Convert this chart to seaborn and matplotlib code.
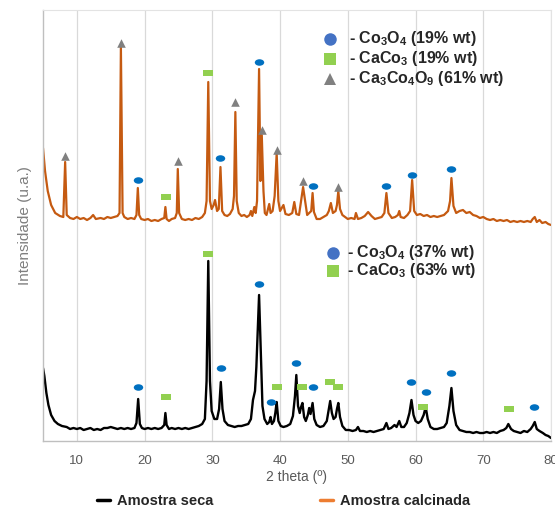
import numpy as np
import pandas as pd
import matplotlib
matplotlib.use("Agg")
import matplotlib.pyplot as plt
from matplotlib.markers import MarkerStyle
from matplotlib.transforms import Affine2D
from matplotlib.lines import Line2D
import seaborn as sns

# --- traced diffractograms (2 theta, intensity in arbitrary units) ---
calc_x = [5.0, 5.3, 5.7, 6.2, 6.8, 7.5, 8.0, 8.27, 8.5, 9.0, 9.5, 10.0, 10.5, 11.0, 11.5, 12.0, 12.4, 12.8,
          13.5, 14.0, 14.5, 15.0, 15.5, 16.0, 16.3, 16.5, 16.75, 17.0, 17.5, 18.0, 18.5, 18.8, 19.0, 19.2,
          19.5, 20.0, 20.5, 21.0, 21.5, 22.0, 22.5, 22.9, 23.07, 23.25, 23.6, 24.0, 24.5, 24.75, 24.9, 25.1,
          25.5, 26.0, 26.5, 27.0, 27.5, 28.0, 28.5, 28.9, 29.15, 29.4, 29.65, 29.9, 30.2, 30.4, 30.7, 30.95,
          31.2, 31.45, 31.8, 32.2, 32.6, 33.0, 33.2, 33.4, 33.6, 33.9, 34.3, 34.7, 35.1, 35.5, 35.7, 35.9,
          36.2, 36.4, 36.6, 36.9, 37.1, 37.3, 37.55, 37.75, 38.0, 38.4, 38.6, 38.9, 39.2, 39.5, 39.75, 40.0,
          40.5, 40.8, 41.3, 41.8, 42.1, 42.4, 42.8, 43.1, 43.4, 43.7, 44.0, 44.3, 44.6, 44.8, 45.0, 45.4,
          45.9, 46.4, 46.9, 47.2, 47.5, 47.8, 48.2, 48.4, 48.6, 48.85, 49.2, 49.6, 50.0, 50.5, 51.0, 51.2,
          51.5, 52.0, 52.5, 53.0, 53.5, 54.0, 54.5, 55.0, 55.4, 55.7, 56.0, 56.5, 57.0, 57.4, 57.6, 57.8,
          58.3, 58.8, 59.2, 59.5, 59.8, 60.2, 60.7, 61.2, 61.7, 62.2, 62.7, 63.2, 63.7, 64.2, 64.8, 65.1,
          65.3, 65.6, 66.0, 66.5, 67.0, 67.5, 68.0, 68.5, 69.0, 69.5, 70.0, 70.5, 71.0, 71.5, 72.0, 72.5,
          73.0, 73.5, 74.0, 74.5, 75.0, 75.5, 76.0, 76.5, 77.0, 77.3, 77.6, 77.9, 78.3, 78.7, 79.2, 79.6, 80.0]
calc_y = [293, 270, 250, 236, 228, 225, 224, 279, 226, 223, 222, 224, 222, 223, 221, 223, 226, 222,
          223, 222, 224, 223, 224, 225, 228, 394, 228, 224, 222, 223, 222, 226, 253, 226,
          222, 221, 222, 220, 221, 220, 222, 223, 234, 222, 220, 222, 223, 228, 272, 228,
          222, 221, 222, 221, 223, 222, 224, 228, 240, 359, 240, 232, 236, 241, 230, 232,
          274, 230, 226, 225, 227, 232, 245, 329, 240, 228, 225, 226, 224, 226, 230, 225,
          234, 228, 240, 372, 260, 306, 250, 228, 226, 237, 228, 230, 245, 288, 240, 230,
          236, 227, 226, 228, 239, 227, 226, 240, 254, 240, 226, 228, 230, 248, 229, 222,
          222, 224, 226, 230, 238, 228, 230, 236, 250, 232, 226, 224, 222, 223, 222, 228,
          222, 223, 225, 229, 225, 222, 223, 224, 228, 248, 228, 223, 224, 226, 230, 224,
          223, 226, 230, 261, 230, 226, 227, 225, 226, 224, 225, 224, 225, 226, 230, 240,
          263, 235, 228, 230, 231, 228, 229, 226, 225, 223, 224, 222, 221, 222, 220, 221,
          220, 221, 219, 220, 219, 220, 219, 220, 219, 222, 224, 219, 221, 218, 219, 217, 216]

seca_x = [5.0, 5.2, 5.5, 5.8, 6.2, 6.7, 7.2, 7.8, 8.5, 9.0, 9.5, 10.0, 10.5, 11.0, 11.5, 12.0, 12.5, 13.0,
          13.5, 14.0, 14.5, 15.0, 15.5, 16.0, 16.5, 17.0, 17.5, 18.0, 18.5, 18.8, 19.05, 19.3, 19.6, 20.0,
          20.5, 21.0, 21.5, 22.0, 22.5, 22.9, 23.07, 23.25, 23.6, 24.0, 24.5, 25.0, 25.5, 26.0, 26.5, 27.0,
          27.5, 28.0, 28.5, 28.9, 29.15, 29.4, 29.65, 29.9, 30.3, 30.7, 31.0, 31.25, 31.5, 31.8, 32.3, 32.8,
          33.3, 33.8, 34.3, 34.8, 35.3, 35.7, 36.0, 36.3, 36.5, 36.7, 36.9, 37.15, 37.4, 37.7, 38.1, 38.4,
          38.6, 38.8, 39.1, 39.3, 39.5, 39.75, 40.1, 40.5, 41.0, 41.5, 41.9, 42.2, 42.4, 42.65, 42.9, 43.1,
          43.3, 43.55, 43.8, 44.1, 44.3, 44.5, 44.8, 45.05, 45.4, 45.9, 46.4, 46.9, 47.2, 47.4, 47.65, 47.9,
          48.2, 48.4, 48.6, 48.85, 49.2, 49.7, 50.2, 50.7, 51.2, 51.5, 51.8, 52.3, 52.8, 53.3, 53.8, 54.3,
          54.8, 55.3, 55.7, 56.0, 56.4, 56.9, 57.2, 57.6, 57.9, 58.3, 58.7, 59.1, 59.4, 59.7, 60.0, 60.4,
          60.8, 61.2, 61.5, 61.8, 62.2, 62.7, 63.2, 63.7, 64.2, 64.6, 65.0, 65.3, 65.6, 66.0, 66.5, 67.0,
          67.5, 68.0, 68.5, 69.0, 69.5, 70.0, 70.5, 71.0, 71.5, 72.0, 72.5, 73.0, 73.4, 73.7, 74.1, 74.5,
          75.0, 75.5, 76.0, 76.5, 77.0, 77.3, 77.6, 77.9, 78.3, 78.8, 79.2, 79.6, 80.0]
seca_y = [73, 65, 48, 36, 26, 20, 17, 15, 14, 12, 13, 12, 13, 11, 12, 13, 11, 12,
          11, 13, 13, 14, 13, 12, 13, 12, 13, 12, 13, 18, 42, 17, 13, 12,
          13, 12, 13, 12, 13, 16, 28, 16, 12, 13, 12, 13, 12, 13, 12, 13,
          14, 15, 17, 22, 60, 180, 60, 30, 22, 22, 32, 59, 32, 20, 16, 15,
          14, 15, 15, 16, 17, 22, 41, 50, 74, 110, 146, 90, 35, 22, 17, 19,
          24, 17, 20, 28, 39, 20, 15, 14, 15, 17, 25, 45, 66, 35, 28, 34,
          38, 24, 20, 26, 33, 27, 38, 22, 16, 14, 15, 20, 32, 40, 28, 22,
          24, 32, 38, 24, 15, 11, 11, 10, 11, 14, 10, 10, 9, 10, 9, 10,
          11, 12, 18, 12, 13, 16, 14, 20, 14, 14, 18, 28, 41, 26, 20, 18,
          20, 26, 34, 22, 14, 12, 12, 13, 14, 18, 35, 53, 30, 16, 11, 10,
          9, 9, 8, 9, 8, 8, 9, 8, 9, 8, 10, 11, 13, 17, 12, 10,
          9, 8, 10, 9, 12, 15, 19, 12, 10, 8, 6, 5, 3]

# --- phase markers above the peaks ---
calc_tri_x = [8.3, 16.5, 24.9, 33.4, 37.4, 39.6, 43.4, 48.6]
calc_tri_y = [285, 398, 280, 339, 311, 291, 260, 254]
calc_circ_x = [19.0, 31.2, 36.9, 44.8, 55.7, 59.5, 65.3]
calc_circ_y = [261, 283, 379, 255, 255, 266, 272]
calc_sq_x = [23.1, 29.4]
calc_sq_y = [244, 368]

seca_circ_x = [19.05, 31.25, 36.9, 38.6, 42.4, 44.8, 59.4, 61.6, 65.3, 77.5]
seca_circ_y = [54, 73, 157, 39, 78, 54, 59, 49, 68, 34]
seca_sq_x = [23.1, 29.4, 39.6, 43.3, 47.3, 48.6, 61.1, 73.8]
seca_sq_y = [44, 187, 54, 54, 59, 54, 34, 32]

ticks = [10, 20, 30, 40, 50, 60, 70, 80]
legend_calc = [r"- Co$_3$O$_4$ (19% wt)", r"- CaCo$_3$ (19% wt)", r"- Ca$_3$Co$_4$O$_9$ (61% wt)"]
legend_seca = [r"- Co$_3$O$_4$ (37% wt)", r"- CaCo$_3$ (63% wt)"]

sns.set_style("whitegrid")
plt.rcParams["font.family"] = ["Liberation Sans", "DejaVu Sans"]
plt.rcParams["mathtext.fontset"] = "custom"
plt.rcParams["mathtext.rm"] = "Liberation Sans:bold"
plt.rcParams["mathtext.it"] = "Liberation Sans:bold"
plt.rcParams["mathtext.bf"] = "Liberation Sans:bold"

BLUE = "#0070C0"
GREEN = "#92D050"
GRAY = "#808080"
ORANGE = "#C55A11"

ellipse = MarkerStyle("o", transform=Affine2D().scale(1.45, 1.0))
rect = MarkerStyle("s", transform=Affine2D().scale(1.5, 0.95))
tri = MarkerStyle("^")

fig = plt.figure(figsize=(5.55, 5.08), dpi=100)
ax = fig.add_axes([43 / 555, 1 - 441 / 508, 508 / 555, 431 / 508])

sns.lineplot(x=calc_x, y=calc_y, color=ORANGE, lw=1.6, ax=ax, sort=False)
sns.lineplot(x=seca_x, y=seca_y, color="black", lw=1.7, ax=ax, sort=False)

sns.scatterplot(x=calc_tri_x, y=calc_tri_y, marker=tri, color=GRAY, s=38, linewidth=0, ax=ax, zorder=3)
sns.scatterplot(x=calc_circ_x, y=calc_circ_y, marker=ellipse, color=BLUE, s=22, linewidth=0, ax=ax, zorder=3)
sns.scatterplot(x=calc_sq_x, y=calc_sq_y, marker=rect, color=GREEN, s=26, linewidth=0, ax=ax, zorder=3)
sns.scatterplot(x=seca_circ_x, y=seca_circ_y, marker=ellipse, color=BLUE, s=22, linewidth=0, ax=ax, zorder=3)
sns.scatterplot(x=seca_sq_x, y=seca_sq_y, marker=rect, color=GREEN, s=26, linewidth=0, ax=ax, zorder=3)

ax.set_xlim(5, 80)
ax.set_ylim(0, 431)
ax.set_xticks(ticks)
ax.set_xticklabels([str(t) for t in ticks])
ax.set_yticks([])
ax.grid(axis="x", color="#D9D9D9", lw=0.9)
ax.grid(axis="y", visible=False)
ax.tick_params(axis="x", length=0, pad=10, labelsize=9.5, labelcolor="#595959")
for side in ["left", "bottom"]:
    ax.spines[side].set_color("#BFBFBF")
    ax.spines[side].set_linewidth(1.0)
for side in ["top", "right"]:
    ax.spines[side].set_color("#E3E3E3")
    ax.spines[side].set_linewidth(0.8)
ax.set_xlabel("2 theta (º)", fontsize=10, color="#595959", labelpad=2)
ax.set_ylabel("Intensidade (u.a.)", fontsize=11, color="#7F7F7F", labelpad=8)

# phase annotation keys inside the plot
key_markers = [("o", "#4472C4"), ("s", GREEN), ("^", GRAY)]
for i, lab in enumerate(legend_calc):
    py = 39 + 20 * i
    m, c = key_markers[i]
    ax.plot([330 / 555], [1 - py / 508], marker=m, color=c, ms=9, mew=0,
            transform=fig.transFigure, clip_on=False)
    fig.text(349 / 555, 1 - py / 508, lab, fontsize=11.5, fontweight="bold", va="center", ha="left")
for i, lab in enumerate(legend_seca):
    py = 253 + 18 * i
    m, c = key_markers[i]
    ax.plot([333 / 555], [1 - py / 508], marker=m, color=c, ms=9, mew=0,
            transform=fig.transFigure, clip_on=False)
    fig.text(347 / 555, 1 - py / 508, lab, fontsize=11.5, fontweight="bold", va="center", ha="left")

handles = [Line2D([], [], color="black", lw=2.5), Line2D([], [], color="#ED7D31", lw=2.5)]
fig.legend(handles, ["Amostra seca", "Amostra calcinada"], loc="lower center",
           bbox_to_anchor=(0.511, -0.026), ncol=2, frameon=False, handlelength=0.9,
           handletextpad=0.5, columnspacing=7.3, prop={"weight": "bold", "size": 10.5})

fig.savefig("out.png", dpi=100)
